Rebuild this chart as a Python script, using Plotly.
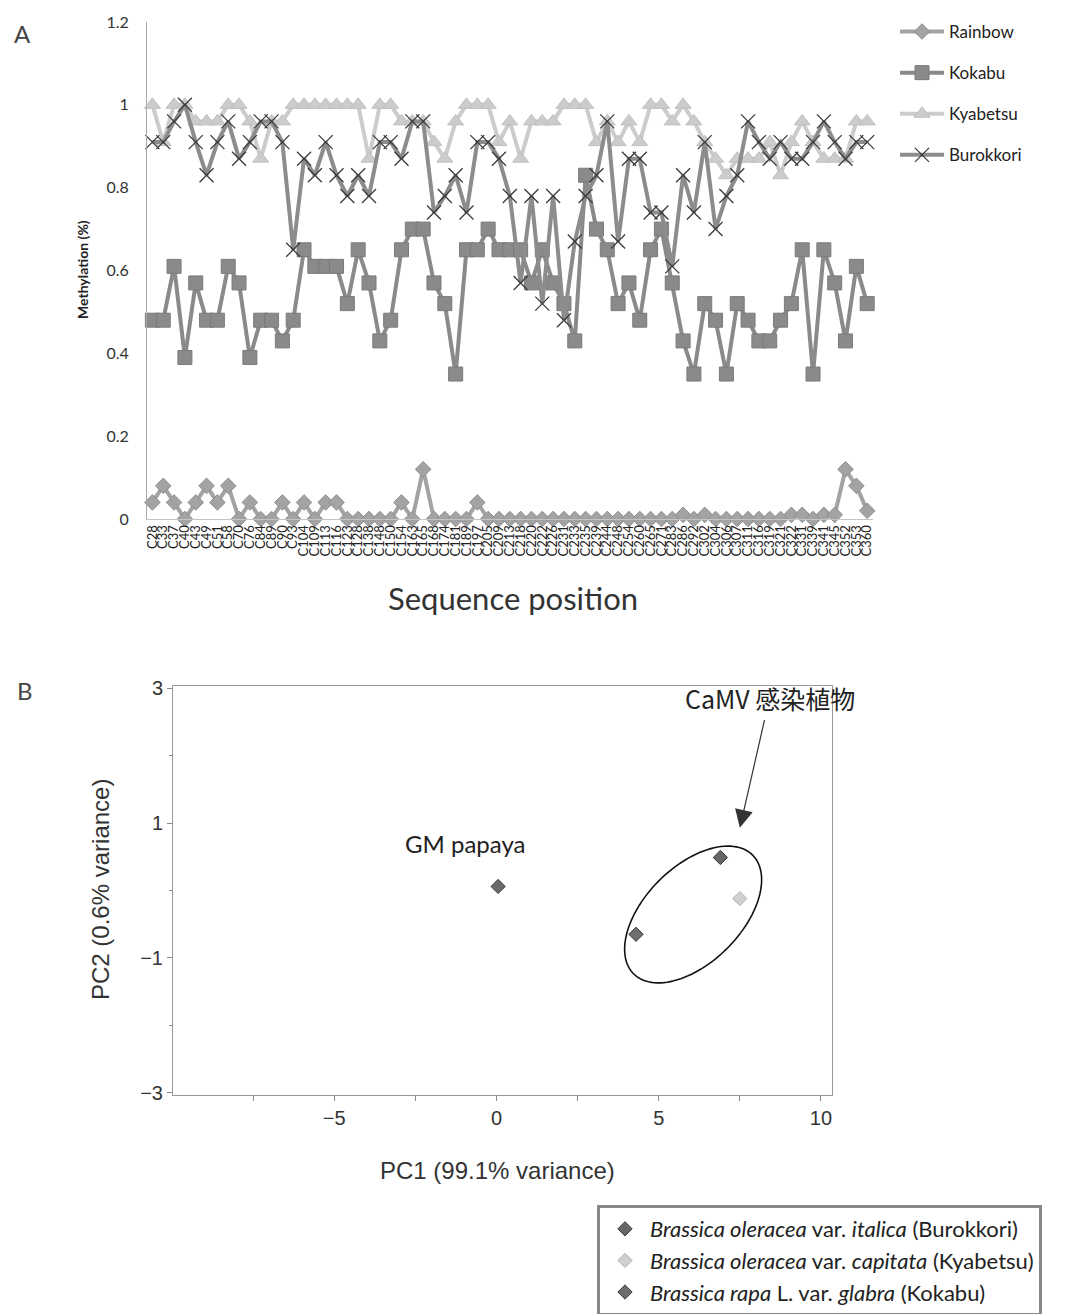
import numpy as np
import plotly.graph_objects as go

# ---------------- data: panel A ----------------
categories = ["C28", "C33", "C37", "C40", "C43", "C49", "C51", "C58", "C70", "C76",
              "C84", "C89", "C90", "C93", "C104", "C109", "C113", "C116", "C123", "C128",
              "C138", "C148", "C150", "C154", "C163", "C165", "C168", "C174", "C181", "C189",
              "C197", "C205", "C209", "C213", "C218", "C220", "C222", "C226", "C231", "C233",
              "C235", "C239", "C244", "C248", "C254", "C260", "C265", "C271", "C283", "C286",
              "C292", "C302", "C304", "C306", "C307", "C311", "C316", "C319", "C321", "C322",
              "C331", "C339", "C341", "C345", "C352", "C353", "C360"]

rainbow = [0.04, 0.08, 0.04, 0.00, 0.04, 0.08, 0.04, 0.08, 0.00, 0.04,
           0.00, 0.00, 0.04, 0.00, 0.04, 0.00, 0.04, 0.04, 0.00, 0.00,
           0.00, 0.00, 0.00, 0.04, 0.00, 0.12, 0.00, 0.00, 0.00, 0.00,
           0.04, 0.00, 0.00, 0.00, 0.00, 0.00, 0.00, 0.00, 0.00, 0.00,
           0.00, 0.00, 0.00, 0.00, 0.00, 0.00, 0.00, 0.00, 0.00, 0.01,
           0.00, 0.01, 0.00, 0.00, 0.00, 0.00, 0.00, 0.00, 0.00, 0.01,
           0.01, 0.00, 0.01, 0.01, 0.12, 0.08, 0.02]

kokabu = [0.48, 0.48, 0.61, 0.39, 0.57, 0.48, 0.48, 0.61, 0.57, 0.39,
          0.48, 0.48, 0.43, 0.48, 0.65, 0.61, 0.61, 0.61, 0.52, 0.65,
          0.57, 0.43, 0.48, 0.65, 0.70, 0.70, 0.57, 0.52, 0.35, 0.65,
          0.65, 0.70, 0.65, 0.65, 0.65, 0.57, 0.65, 0.57, 0.52, 0.43,
          0.83, 0.70, 0.65, 0.52, 0.57, 0.48, 0.65, 0.70, 0.57, 0.43,
          0.35, 0.52, 0.48, 0.35, 0.52, 0.48, 0.43, 0.43, 0.48, 0.52,
          0.65, 0.35, 0.65, 0.57, 0.43, 0.61, 0.52]

kyabetsu = [1.00, 0.91, 1.00, 1.00, 0.96, 0.96, 0.96, 1.00, 1.00, 0.96,
            0.87, 0.96, 0.96, 1.00, 1.00, 1.00, 1.00, 1.00, 1.00, 1.00,
            0.87, 1.00, 1.00, 0.96, 0.96, 0.96, 0.91, 0.87, 0.96, 1.00,
            1.00, 1.00, 0.91, 0.96, 0.87, 0.96, 0.96, 0.96, 1.00, 1.00,
            1.00, 0.91, 0.96, 0.91, 0.96, 0.91, 1.00, 1.00, 0.96, 1.00,
            0.96, 0.91, 0.87, 0.83, 0.87, 0.87, 0.87, 0.91, 0.83, 0.91,
            0.96, 0.91, 0.87, 0.87, 0.87, 0.96, 0.96]

burokkori = [0.91, 0.91, 0.96, 1.00, 0.91, 0.83, 0.91, 0.96, 0.87, 0.91,
             0.96, 0.96, 0.91, 0.65, 0.87, 0.83, 0.91, 0.83, 0.78, 0.83,
             0.78, 0.91, 0.91, 0.87, 0.96, 0.96, 0.74, 0.78, 0.83, 0.74,
             0.91, 0.91, 0.87, 0.78, 0.57, 0.78, 0.52, 0.78, 0.48, 0.67,
             0.78, 0.83, 0.96, 0.67, 0.87, 0.87, 0.74, 0.74, 0.61, 0.83,
             0.74, 0.91, 0.70, 0.78, 0.83, 0.96, 0.91, 0.87, 0.91, 0.87,
             0.87, 0.91, 0.96, 0.91, 0.87, 0.91, 0.91]

y_ticks_a = [0, 0.2, 0.4, 0.6, 0.8, 1.0, 1.2]

# ---------------- data: panel B ----------------
pc_labels = ["GM papaya", "Burokkori", "Kyabetsu", "Kokabu"]
pc1 = [0.05, 6.9, 7.5, 4.3]
pc2 = [0.06, 0.49, -0.12, -0.65]
legend_b = ["<i>Brassica oleracea</i> var. <i>italica</i> (Burokkori)",
            "<i>Brassica oleracea</i> var. <i>capitata</i> (Kyabetsu)",
            "<i>Brassica rapa</i> L. var. <i>glabra</i> (Kokabu)"]

# ---------------- layout helpers ----------------
W, H = 1078, 1314
OFF = 8  # page body margin compensation
def px(x):
    return (x - OFF) / W
def py(y):
    return 1 - (y - OFF) / H

FONT_A = "Lato, 'Open Sans', sans-serif"
FONT_B = "'Liberation Sans', Arial, sans-serif"

fig = go.Figure()

series = [
    ("Rainbow", rainbow, "diamond", 12, "#a3a3a3", "#a3a3a3", dict(color="#8f8f8f", width=1)),
    ("Kokabu", kokabu, "square", 14, "#8a8a8a", "#8a8a8a", dict(color="#7a7a7a", width=1)),
    ("Kyabetsu", kyabetsu, "triangle-up", 14, "#cccccc", "#cccccc", dict(color="#c0c0c0", width=1)),
    ("Burokkori", burokkori, "x-thin", 14, "#8c8c8c", "#333333", dict(color="#3a3a3a", width=1.3)),
]
for i, (name, vals, sym, size, lcol, mcol, mline) in enumerate(series):
    fig.add_trace(go.Scatter(
        x=categories, y=vals, mode="lines+markers", name=name,
        line=dict(color=lcol, width=4),
        marker=dict(symbol=sym, size=size, color=mcol, line=mline),
        xaxis="x", yaxis="y", legend="legend", legendgroup=name,
        cliponaxis=False,
    ))

# panel B points
fig.add_trace(go.Scatter(
    x=[pc1[0]], y=[pc2[0]], mode="markers", showlegend=False,
    marker=dict(symbol="diamond", size=11, color="#6a6a6a", line=dict(color="#444", width=1)),
    xaxis="x2", yaxis="y2"))
b_colors = ["#666666", "#cfcfcf", "#6e6e6e"]
b_lines = ["#3a3a3a", "#b5b5b5", "#3a3a3a"]
for k in range(3):
    fig.add_trace(go.Scatter(
        x=[pc1[k + 1]], y=[pc2[k + 1]], mode="markers", name=legend_b[k],
        marker=dict(symbol="diamond", size=11, color=b_colors[k], line=dict(color=b_lines[k], width=1)),
        xaxis="x2", yaxis="y2", legend="legend2", legendgroup="b%d" % k))

# ellipse around CaMV-infected plants (annotation shape)
XPU, YPU = 32.4, 67.4   # approx pixels per data unit in panel B
cx, cy = 6.06, -0.356
a_px, b_px, th = 84, 48, np.deg2rad(45)
t = np.linspace(0, 2 * np.pi, 120)
dx = a_px * np.cos(t) * np.cos(th) - b_px * np.sin(t) * np.sin(th)
dy = a_px * np.cos(t) * np.sin(th) + b_px * np.sin(t) * np.cos(th)
ex = cx + dx / XPU
ey = cy + dy / YPU
path = "M " + " L ".join("%.4f,%.4f" % (u, v) for u, v in zip(ex, ey)) + " Z"

fig.update_layout(
    width=W, height=H,
    margin=dict(l=0, r=0, t=0, b=0, autoexpand=False),
    paper_bgcolor="white", plot_bgcolor="white",
    xaxis=dict(domain=[px(147), px(872.6)], anchor="y", type="category",
               range=[-0.5, len(categories) - 0.5],
               tickmode="array", tickvals=categories, ticktext=categories,
               tickangle=-90, tickfont=dict(family=FONT_A, size=13, color="#222"),
               showline=True, linecolor="#c4c4c4", linewidth=1,
               showgrid=False, zeroline=False, ticks=""),
    yaxis=dict(domain=[py(519), py(22)], anchor="x", range=[0, 1.2],
               tickmode="array", tickvals=y_ticks_a,
               tickfont=dict(family=FONT_A, size=16, color="#333"),
               ticklabelstandoff=14,
               showline=True, linecolor="#a8a8a8", linewidth=1,
               showgrid=False, zeroline=False, ticks=""),
    xaxis2=dict(domain=[px(173), px(832)], anchor="y2", range=[-9.97, 10.34],
                tick0=0, dtick=5, ticks="outside", ticklen=5, tickcolor="#888",
                minor=dict(dtick=2.5, ticks="outside", ticklen=5, tickcolor="#888"),
                tickfont=dict(family=FONT_B, size=20, color="#333"),
                showline=True, mirror=True, linecolor="#999", linewidth=1,
                showgrid=False, zeroline=False),
    yaxis2=dict(domain=[py(1095), py(686)], anchor="x2", range=[-3.035, 3.035],
                tick0=1, dtick=2, ticks="outside", ticklen=5, tickcolor="#888",
                minor=dict(dtick=1, ticks="outside", ticklen=3, tickcolor="#888"),
                tickfont=dict(family=FONT_B, size=20, color="#333"),
                showline=True, mirror=True, linecolor="#999", linewidth=1,
                showgrid=False, zeroline=False),
    legend=dict(x=px(895), y=py(14), xanchor="left", yanchor="top",
                font=dict(family=FONT_A, size=17, color="#222"),
                bgcolor="rgba(0,0,0,0)", tracegroupgap=16, itemwidth=44),
    legend2=dict(x=px(597), y=py(1205), xanchor="left", yanchor="top",
                 font=dict(family=FONT_A, size=22, color="#222"),
                 bgcolor="white", bordercolor="#888", borderwidth=3,
                 tracegroupgap=0, itemwidth=40),
    shapes=[dict(type="path", path=path, xref="x2", yref="y2",
                 line=dict(color="#111", width=1.6))],
)

ann = [
    dict(text="A", x=px(22), y=py(33), font=dict(family=FONT_A, size=24, color="#444")),
    dict(text="B", x=px(25), y=py(690), font=dict(family=FONT_A, size=24, color="#444")),
    dict(text="<b>Methylation (%)</b>", x=px(83), y=py(270), textangle=-90,
         font=dict(family=FONT_A, size=14, color="#222")),
    dict(text="Sequence position", x=px(513), y=py(598),
         font=dict(family=FONT_A, size=31, color="#333")),
    dict(text="PC1 (99.1% variance)", x=px(497), y=py(1170),
         font=dict(family=FONT_B, size=24, color="#333")),
    dict(text="PC2 (0.6% variance)", x=px(100), y=py(890), textangle=-90,
         font=dict(family=FONT_B, size=24, color="#333")),
]
for a in ann:
    fig.add_annotation(xref="paper", yref="paper", showarrow=False,
                       xanchor="center", yanchor="middle", **a)

fig.add_annotation(text="GM papaya", x=-0.96, y=0.70, xref="x2", yref="y2",
                   showarrow=False, font=dict(family=FONT_A, size=24, color="#222"))
fig.add_annotation(text="CaMV 感染植物", x=8.43, y=2.85, xref="x2", yref="y2",
                   showarrow=False,
                   font=dict(family="'Noto Sans CJK JP', Lato, sans-serif", size=25, color="#222"))
fig.add_annotation(text="", x=7.5, y=0.93, xref="x2", yref="y2",
                   ax=8.27, ay=2.55, axref="x2", ayref="y2",
                   showarrow=True, arrowhead=2, arrowsize=3, arrowwidth=1.2,
                   arrowcolor="#333")

fig.write_html("out.html")
